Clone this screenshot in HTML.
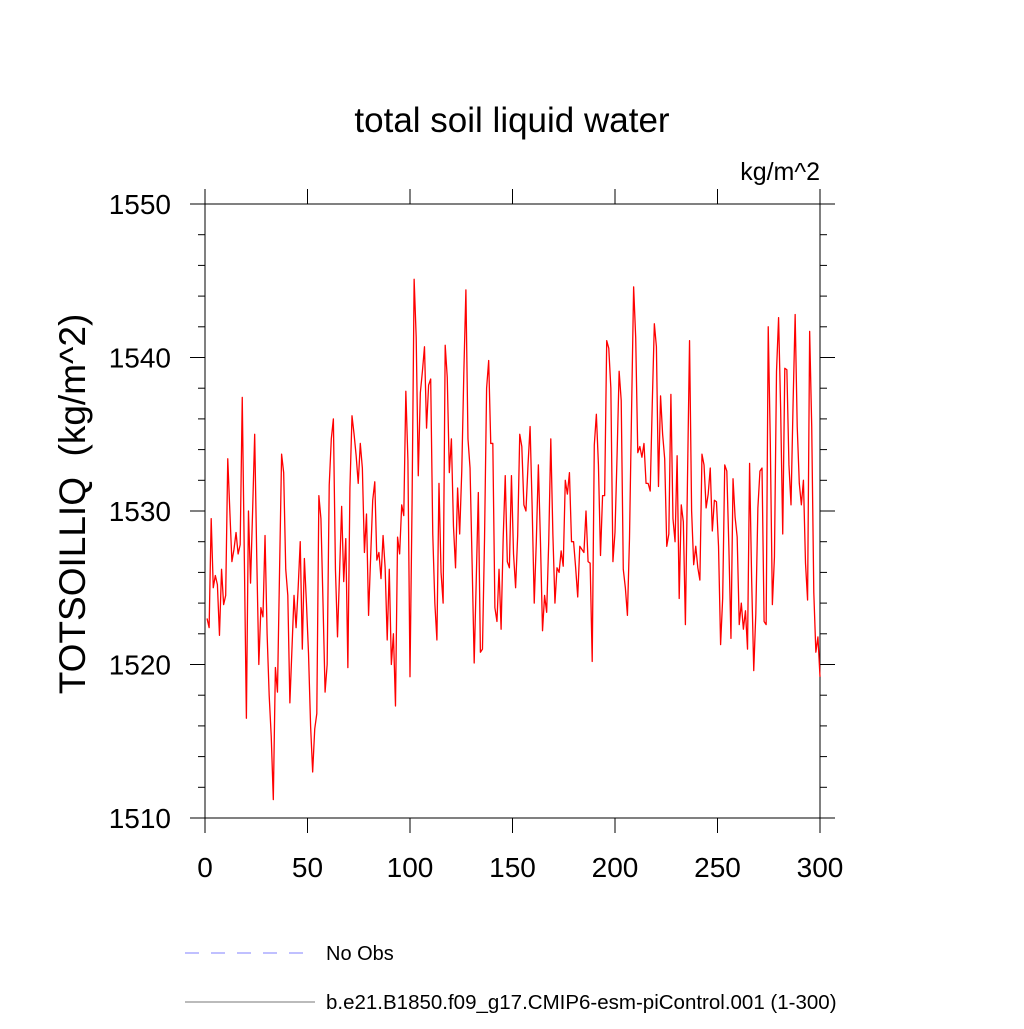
<!DOCTYPE html>
<html><head><meta charset="utf-8"><style>
body{margin:0;background:#fff;}
svg text{font-family:"Liberation Sans",sans-serif;}
</style></head><body>
<svg id="chart" width="1024" height="1024" viewBox="0 0 1024 1024" xmlns="http://www.w3.org/2000/svg">
<rect width="1024" height="1024" fill="#fff"/>
<text x="512" y="132" font-size="35" text-anchor="middle">total soil liquid water</text>
<text x="820" y="180" font-size="25" text-anchor="end">kg/m^2</text>
<text transform="translate(85,504) rotate(-90)" font-size="37" text-anchor="middle">TOTSOILLIQ&#160; (kg/m^2)</text>
<g id="axes"></g>
<polyline id="series" fill="none" stroke="#ff0000" stroke-width="1.3" stroke-linejoin="round"/>
<line x1="185" y1="953" x2="315" y2="953" stroke="#8080ff" stroke-width="1" stroke-dasharray="14,12"/>
<text x="326" y="960" font-size="20">No Obs</text>
<line x1="185" y1="1002" x2="315" y2="1002" stroke="#777" stroke-width="1"/>
<text x="326" y="1009" font-size="20.5">b.e21.B1850.f09_g17.CMIP6-esm-piControl.001 (1-300)</text>
</svg>
<script>
const values = [1523,1522.4,1529.5,1525,1525.8,1525.2,1521.9,1526.2,1523.9,1524.5,1533.4,1530,1526.7,1527.5,1528.6,1527.2,1527.8,1537.4,1527,1516.5,1530,1525.3,1530,1535,1527,1520,1523.7,1523.1,1528.4,1522,1518,1515.3,1511.2,1519.8,1518.2,1526,1533.7,1532.5,1526.2,1524.5,1517.5,1521,1524.5,1522.4,1525,1528,1521,1526.9,1524,1520.7,1516,1513,1515.8,1516.8,1531,1529.5,1524,1518.2,1520,1531.7,1534.7,1536,1526.2,1521.8,1526,1530.3,1525.4,1528.2,1519.8,1531.5,1536.2,1535,1533.6,1531.8,1534.4,1532.8,1527.3,1529.8,1523.2,1527,1530.7,1531.9,1526.8,1527.3,1525.6,1528.4,1526.3,1521.6,1526.2,1520,1522,1517.3,1528.3,1527.2,1530.4,1529.7,1537.8,1533.3,1519.2,1530.5,1545.1,1541.3,1532.3,1537.7,1539.1,1540.7,1535.4,1538.2,1538.6,1528.5,1524,1521.6,1531.8,1526,1524,1540.8,1538.7,1532.5,1534.7,1529,1526.3,1531.5,1528.5,1532.6,1539,1544.4,1534.7,1532.8,1526.6,1520.1,1525.5,1531.2,1520.8,1521,1528.2,1538,1539.8,1534.4,1534.4,1523.7,1522.8,1526.2,1522.3,1528.2,1532.3,1526.7,1526.3,1532.3,1527.2,1525,1528.4,1535,1534.2,1530.4,1530,1533,1535.5,1530.2,1524,1528,1533,1528,1522.2,1524.5,1523.4,1528,1534.7,1528.5,1524,1526.3,1526,1527.4,1526.4,1532,1531.1,1532.5,1528,1528,1526.3,1524.4,1527.7,1527.5,1527.3,1530,1526.7,1526.6,1520.2,1534.3,1536.3,1533,1527.1,1531,1531,1541.1,1540.6,1538,1526.7,1528.6,1533.6,1539.1,1537.2,1526.2,1525,1523.2,1528.2,1536.5,1544.6,1541.3,1533.8,1534.2,1533.5,1534.4,1531.8,1531.8,1531.3,1537,1542.2,1540.7,1531.6,1537.5,1535,1533.4,1527.7,1528.5,1537.6,1529.5,1528,1533.6,1524.3,1530.4,1529.3,1522.6,1532,1541.1,1530,1526.5,1527.7,1526.3,1525.5,1533.7,1533,1530.2,1531.1,1532.8,1528.7,1530.7,1530.6,1527.7,1521.3,1524.3,1533,1532.6,1527.6,1521.7,1532.1,1529.6,1528.3,1522.6,1524,1522.3,1523.5,1521,1533.1,1525.5,1519.6,1523.3,1530.2,1532.6,1532.8,1522.8,1522.6,1542,1534.5,1523.9,1527,1539.1,1542.6,1536.6,1528.5,1539.3,1539.2,1533,1530.4,1537,1542.8,1535.5,1531.8,1530.4,1532,1526.6,1524.2,1541.7,1535.5,1524.7,1520.8,1521.8,1519.2];
const xTicks = [0,50,100,150,200,250,300];
const yTicks = [1510,1520,1530,1540,1550];
const xMin=0,xMax=300,yMin=1510,yMax=1550;
const L=205,R=820,T=204,B=818;
const sx=v=>L+(v-xMin)/(xMax-xMin)*(R-L);
const sy=v=>B-(v-yMin)/(yMax-yMin)*(B-T);
const NS="http://www.w3.org/2000/svg";
const ax=document.getElementById('axes');
function ln(x1,y1,x2,y2,name){const l=document.createElementNS(NS,'line');
l.setAttribute('x1',x1);l.setAttribute('y1',y1);l.setAttribute('x2',x2);l.setAttribute('y2',y2);
l.setAttribute('stroke','#000');l.setAttribute('stroke-width','1');


ax.appendChild(l);}
ln(L,T,R,T,'plot-frame-top');ln(L,B,R,B,'plot-frame-bottom');ln(L,T,L,B,'plot-frame-left');ln(R,T,R,B,'plot-frame-right');
for(let v=yMin;v<=yMax;v+=2){const y=sy(v);const maj=(v-yMin)%10===0;const len=maj?15:7;
ln(L-len,y,L,y,maj?'y-major-tick':'y-minor-tick');ln(R,y,R+len,y,maj?'y-major-tick-right':'y-minor-tick-right');}
xTicks.forEach(v=>{const x=sx(v);
ln(x,B,x,B+15,'x-major-tick');ln(x,T-15,x,T,'x-major-tick-top');});
yTicks.forEach(v=>{const t=document.createElementNS(NS,'text');
t.setAttribute('x',L-34);t.setAttribute('y',sy(v)+10);t.setAttribute('font-size','28');t.setAttribute('text-anchor','end');


t.textContent=v;ax.appendChild(t);});
xTicks.forEach(v=>{const t=document.createElementNS(NS,'text');
t.setAttribute('x',sx(v));t.setAttribute('y',B+59);t.setAttribute('font-size','28');t.setAttribute('text-anchor','middle');


t.textContent=v;ax.appendChild(t);});
const n=values.length;
const pts=values.map((v,i)=>{const yr=1+i*(299/(n-1));return sx(yr).toFixed(2)+','+sy(v).toFixed(2);});
document.getElementById('series').setAttribute('points',pts.join(' '));
</script>
</body></html>
